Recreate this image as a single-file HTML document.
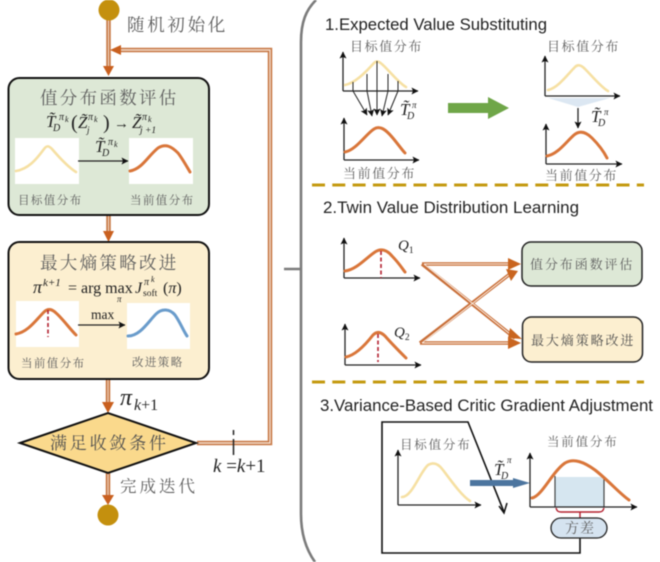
<!DOCTYPE html>
<html><head><meta charset="utf-8"><style>
html,body{margin:0;padding:0;background:#fff;width:660px;height:562px;overflow:hidden}
svg{display:block;filter:blur(.4px)}
.zh{font-family:"Liberation Serif","Noto Serif CJK SC",serif;fill:#5e5e5e}
.en{font-family:"Liberation Sans",sans-serif;fill:#222;font-size:17px}
.m{font-family:"Liberation Serif",serif;fill:#222;font-style:italic}
.r{font-family:"Liberation Serif",serif;fill:#222}
.ax{stroke:#222;stroke-width:1.3;fill:none}
.y{fill:none;stroke:#F6E0A3;stroke-width:2.6;stroke-linecap:round}
.o{fill:none;stroke:#D9763A;stroke-width:3;stroke-linecap:round}
.d{stroke:#B3202F;stroke-width:1.6;stroke-dasharray:4 2.5;fill:none}
</style></head><body>
<svg width="660" height="562" viewBox="0 0 660 562" xmlns="http://www.w3.org/2000/svg">
<defs>
<marker id="a" markerWidth="8" markerHeight="8" refX="6.500" refY="3.500" orient="auto" markerUnits="userSpaceOnUse"><path d="M0 0L7 3.500L0 7L1.500 3.500Z" fill="#111"/></marker>
<g id="tt"><text class="m" font-size="17" x="0" y="0">T̃</text><text class="m" font-size="10" x="7" y="4">D</text></g>
</defs>

<!-- flow connectors -->
<g fill="none" stroke-linejoin="miter">
<path d="M118 50H270V443H197" stroke="#C87A48" stroke-width="4.500"/>
<path d="M118 50H270V443H197" stroke="#F8E8DC" stroke-width="1.200"/>
<path d="M108.500 20V70M108.500 215V232M108 379V404M108 473V497" stroke="#C87A48" stroke-width="4.500"/>
<path d="M108.500 20V70M108.500 215V232M108 379V404M108 473V497" stroke="#F3D9C6" stroke-width="1"/>
</g>
<g fill="#C9601F">
<path d="M110 50L121 45V55Z"/>
<path d="M103 66H114L108.500 76Z"/>
<path d="M103 231H114L108.500 242Z"/>
<path d="M102 402H114L108 413Z"/>
<path d="M102 495H114L108 505Z"/>
</g>
<circle cx="109" cy="10" r="10.500" fill="#C4900E"/>
<circle cx="108" cy="515" r="10.500" fill="#C4900E"/>
<text class="zh" x="127" y="31" font-size="17.500" letter-spacing="2.700">随机初始化</text>

<!-- green box -->
<rect x="8.500" y="78" width="200.500" height="137" rx="11" fill="#DDE8D6" stroke="#111" stroke-width="2"/>
<text class="zh" x="40" y="104" font-size="17.500" letter-spacing="2.300">值分布函数评估</text>
<use href="#tt" x="46" y="127"/>
<text class="m" font-size="10" x="59" y="120">π</text><text class="m" font-size="8" x="65" y="122">k</text>
<text class="r" font-size="20" x="71" y="129">(</text>
<text class="m" font-size="17" x="78" y="128">Z̃</text><text class="m" font-size="10" x="88" y="120">π</text><text class="m" font-size="8" x="94" y="122">k</text><text class="m" font-size="9" x="87" y="133">j</text>
<text class="r" font-size="20" x="103" y="129">)</text>
<text class="r" font-size="15" x="114" y="128">→</text>
<text class="m" font-size="17" x="132" y="128">Z̃</text><text class="m" font-size="10" x="142" y="120">π</text><text class="m" font-size="8" x="148" y="122">k</text><text class="m" font-size="9.500" x="140" y="133">j +1</text>
<rect x="15" y="138" width="64" height="46" fill="#fff"/>
<rect x="129" y="138" width="64" height="46" fill="#fff"/>
<path class="y" d="M16 171C28 169 36 160 44 149C47 145 49 146 52 149C58 156 68 167 76 172"/>
<path class="o" d="M130 171C142 169 148 156 158 148C166 143 172 147 178 153C182 158 187 167 190 172"/>
<path class="ax" stroke-width="1.500" d="M78 161H128" marker-end="url(#a)"/>
<use href="#tt" x="95" y="152"/>
<text class="m" font-size="10" x="108" y="145">π</text><text class="m" font-size="8" x="114" y="147">k</text>
<text class="zh" x="18" y="204" font-size="11.500" letter-spacing="1.400">目标值分布</text>
<text class="zh" x="130" y="204" font-size="11.500" letter-spacing="1.400">当前值分布</text>

<!-- yellow box -->
<rect x="8.500" y="242" width="200.500" height="137" rx="11" fill="#FCEFD0" stroke="#111" stroke-width="2"/>
<text class="zh" x="40" y="269" font-size="17.500" letter-spacing="2.300">最大熵策略改进</text>
<text class="m" font-size="18" x="33" y="293">π</text>
<text class="m" font-size="11" x="43" y="286">k+1</text>
<text class="r" font-size="16" x="68" y="293">= arg max</text>
<text class="m" font-size="9" x="117" y="302">π</text>
<text class="m" font-size="16" x="135" y="293">J</text>
<text class="m" font-size="10" x="144" y="285">π</text><text class="m" font-size="8" x="151" y="282">k</text>
<text class="r" font-size="9.500" x="143" y="296">soft</text>
<text class="r" font-size="16" x="163" y="293">(<tspan font-style="italic">π</tspan>)</text>
<rect x="16" y="301" width="63" height="46" fill="#fff"/>
<rect x="127" y="303" width="63" height="46" fill="#fff"/>
<path class="o" d="M16 334C28 332 36 320 44 312C48 308 52 309 56 313C62 318 70 329 76 335"/>
<path d="M48 310V337" class="d"/>
<path d="M128 336C140 336 148 322 156 314C162 308 170 309 175 315C180 322 183 330 187 336" fill="none" stroke="#6A9CCB" stroke-width="3" stroke-linecap="round"/>
<path class="ax" stroke-width="1.500" d="M78 325H125" marker-end="url(#a)"/>
<text class="r" font-size="13.500" x="91" y="319">max</text>
<text class="zh" x="21" y="367" font-size="11.500" letter-spacing="1.400">当前值分布</text>
<text class="zh" x="132" y="366" font-size="11.500" letter-spacing="1.400">改进策略</text>

<text class="m" font-size="24" x="120" y="405">π</text>
<text class="m" font-size="16" x="134" y="410">k<tspan font-style="normal">+1</tspan></text>

<!-- diamond -->
<path d="M20 443L108 413L196 443L108 473Z" fill="#FAD98C" stroke="#111" stroke-width="2" stroke-linejoin="miter"/>
<text class="zh" x="50" y="449" font-size="17" letter-spacing="2.800" style="fill:#4f4f4f">满足收敛条件</text>
<text class="zh" x="120" y="492" font-size="16.500" letter-spacing="3">完成迭代</text>
<path d="M233.500 430V435M233.500 439V455" stroke="#222" stroke-width="1.500"/>
<text class="m" font-size="19" x="213" y="472">k <tspan font-style="normal">=</tspan>k<tspan font-style="normal">+1</tspan></text>

<!-- bracket -->
<path d="M316 0C306 10 301 22 301 42V514C301 532 305 548 315 562M284 269H300" fill="none" stroke="#7C7C7C" stroke-width="2.600"/>

<!-- section 1 -->
<text class="en" x="325" y="30" textLength="222" lengthAdjust="spacingAndGlyphs">1.Expected Value Substituting</text>
<text class="zh" x="350" y="51" font-size="13" letter-spacing="1.600">目标值分布</text>
<path class="ax" d="M343 91V52" marker-end="url(#a)"/><path class="ax" d="M343 91H418" marker-end="url(#a)"/>
<path class="y" d="M345 85C355 83 365 73 374 63C377 60 380 62 384 66C392 74 400 84 406 87"/>
<g stroke="#222" stroke-width="1" fill="none">
<path d="M353 82V91L367 115" marker-end="url(#a)"/>
<path d="M367 74V91L372 116" marker-end="url(#a)"/>
<path d="M377 61V115" marker-end="url(#a)"/>
<path d="M388 74V91L382 116" marker-end="url(#a)"/>
<path d="M398 81V91L388 115" marker-end="url(#a)"/>
</g>
<use href="#tt" x="400" y="115"/><text class="m" font-size="9" x="412" y="108">π</text>
<path class="ax" d="M344 160V118" marker-end="url(#a)"/><path class="ax" d="M344 160H419" marker-end="url(#a)"/>
<path class="o" d="M345 152C356 150 366 134 374 129C380 125 386 130 392 137C398 144 402 150 405 153"/>
<text class="zh" x="343" y="178" font-size="13" letter-spacing="1.600">当前值分布</text>
<path d="M448 103H488V97L509 108L488 119V113H448Z" fill="#6FA648"/>
<text class="zh" x="547" y="51" font-size="13" letter-spacing="1.600">目标值分布</text>
<path class="ax" d="M545 96V56" marker-end="url(#a)"/><path class="ax" d="M545 96H620" marker-end="url(#a)"/>
<path class="y" d="M548 90C558 88 568 74 575 67C578 64 581 65 585 69C592 76 602 88 608 91"/>
<path d="M548 98H610L578 107Z" fill="#DCE7F2"/>
<path class="ax" d="M578 108V128" marker-end="url(#a)"/>
<use href="#tt" x="591" y="122"/><text class="m" font-size="9" x="604" y="115">π</text>
<path class="ax" d="M546 164V124" marker-end="url(#a)"/><path class="ax" d="M546 164H622" marker-end="url(#a)"/>
<path class="o" d="M547 156C558 154 566 142 574 135C580 130 586 132 592 138C598 144 604 152 607 158"/>
<text class="zh" x="545" y="180" font-size="13" letter-spacing="1.600">当前值分布</text>
<path d="M312 185H644" stroke="#C49A10" stroke-width="3" stroke-dasharray="13 7.300"/>

<!-- section 2 -->
<text class="en" x="323" y="213" textLength="256" lengthAdjust="spacingAndGlyphs">2.Twin Value Distribution Learning</text>
<path class="ax" d="M344 278V238" marker-end="url(#a)"/><path class="ax" d="M344 278H420" marker-end="url(#a)"/>
<path class="o" d="M345 271C356 270 366 258 375 252C381 248 387 250 392 256C398 262 402 268 405 272"/>
<path class="d" d="M381 251V278"/>
<text class="m" font-size="15" x="398" y="250">Q<tspan font-size="9.500" dy="3" font-style="normal">1</tspan></text>
<path class="ax" d="M345 365V324" marker-end="url(#a)"/><path class="ax" d="M345 365H421" marker-end="url(#a)"/>
<path class="o" d="M346 357C356 355 366 344 373 335C377 331 381 332 385 336C392 344 400 352 406 358"/>
<path class="d" d="M378 334V362"/>
<text class="m" font-size="15" x="394" y="337">Q<tspan font-size="9.500" dy="3" font-style="normal">2</tspan></text>
<g fill="none">
<path d="M422 264L515 338M422 264H510M420 343L510 274M420 343H510" stroke="#C9703A" stroke-width="3.600"/>
<path d="M424 264L515 338M424 264H510M422 343L510 274M422 343H510" stroke="#FBEFE6" stroke-width="1"/>
</g>
<g fill="#C9651F">
<path d="M508 258L521 264L508 270Z"/>
<path d="M508 337L521 343L508 349Z"/>
<path d="M506 269L518 271L511 281Z"/>
<path d="M510 328L522 339L508 338Z"/>
</g>
<rect x="522" y="242" width="120" height="44" rx="9" fill="#DDE8D6" stroke="#222" stroke-width="1.500"/>
<rect x="522.500" y="317" width="120" height="45" rx="9" fill="#FCEFD0" stroke="#222" stroke-width="1.500"/>
<text class="zh" x="530" y="269" font-size="13" letter-spacing="1.900">值分布函数评估</text>
<text class="zh" x="531" y="345" font-size="13" letter-spacing="1.900" style="fill:#4f4f4f">最大熵策略改进</text>
<path d="M312 382H644" stroke="#C49A10" stroke-width="3" stroke-dasharray="13 7.300"/>

<!-- section 3 -->
<text class="en" x="320" y="411" textLength="333" lengthAdjust="spacingAndGlyphs">3.Variance-Based Critic Gradient Adjustment</text>
<path d="M580 535V553H382V422H468L504 512" fill="none" stroke="#111" stroke-width="1.600"/>
<path d="M499 506L504 513L507 503" fill="none" stroke="#111" stroke-width="1.500"/>
<text class="zh" x="400" y="449" font-size="12.500" letter-spacing="1.800">目标值分布</text>
<path class="ax" d="M398 505V450" marker-end="url(#a)"/><path class="ax" d="M398 505H481" marker-end="url(#a)"/>
<path class="y" d="M402 497C412 497 420 472 428 465C433 462 438 463 443 470C452 482 462 496 470 501"/>
<path d="M470 480H513V478L530 483L513 488V486H470Z" fill="#4C759F"/>
<use href="#tt" x="494" y="475"/><text class="m" font-size="9" x="507" y="463">π</text>
<text class="zh" x="547" y="446" font-size="12.500" letter-spacing="1.800">当前值分布</text>
<rect x="555" y="477" width="49" height="30" fill="#D6E6F0"/>
<path d="M555 476V507M604 477V507" stroke="#444" stroke-width="1.200"/>
<path class="ax" d="M530 507V453" marker-end="url(#a)"/><path class="ax" d="M530 507H637" marker-end="url(#a)"/>
<path class="o" d="M532 498C542 496 552 472 565 463C574 458 584 462 595 470C608 480 620 494 629 500"/>
<path d="M556 508C557 511 558 512 561 512H599C602 512 603 511 604 508M580 512V518" fill="none" stroke="#B3202F" stroke-width="1.400"/>
<rect x="551" y="518" width="56" height="20" rx="10" fill="#D5E3F0" stroke="#222" stroke-width="1.300"/>
<text class="zh" x="565" y="533" font-size="14" letter-spacing="1">方差</text>
</svg>
</body></html>
